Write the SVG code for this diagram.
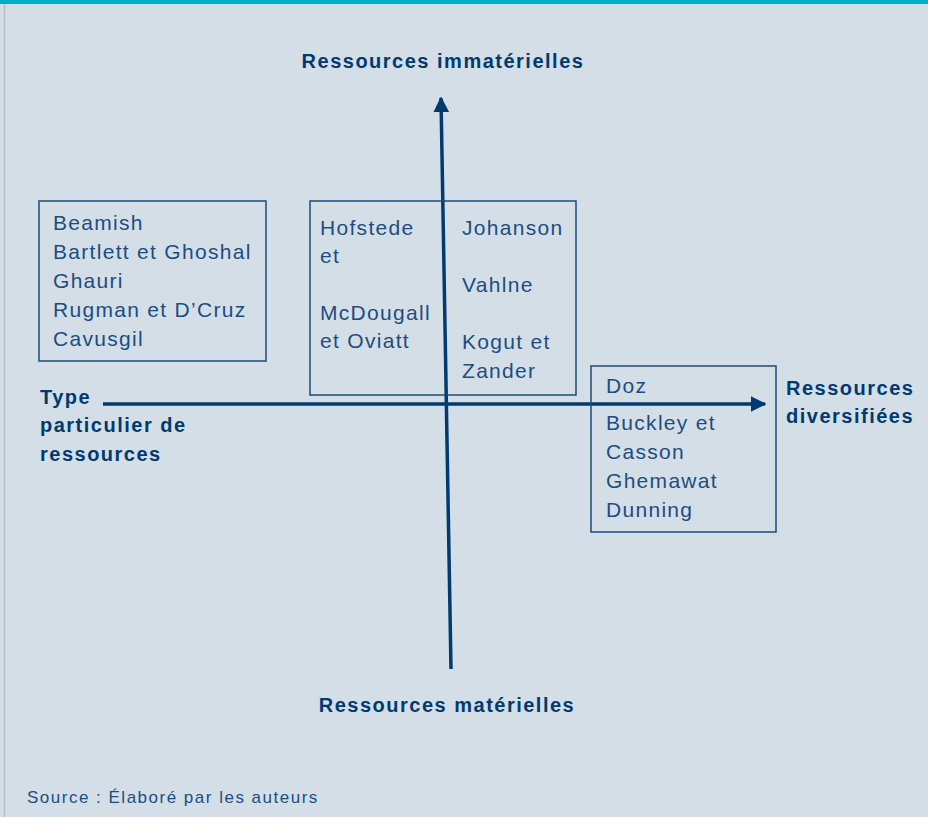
<svg xmlns="http://www.w3.org/2000/svg" width="928" height="817" viewBox="0 0 928 817">
<style>
.bg{fill:#d4dee7}
.box{fill:none;stroke:#1d4a7a;stroke-width:1.5}
.t{font-family:"Liberation Sans",Arial,sans-serif;font-size:21px;letter-spacing:1.3px;fill:#1d4d80}
.b{font-family:"Liberation Sans",Arial,sans-serif;font-size:20px;letter-spacing:1.5px;font-weight:bold;fill:#003a70}
.s{font-family:"Liberation Sans",Arial,sans-serif;font-size:17px;letter-spacing:1.5px;fill:#1d4d80}
.ax{stroke:#003a70;stroke-width:3.5;fill:none}
</style>
<defs>
<marker id="ah" viewBox="0 0 10 10" refX="9" refY="5" markerWidth="4.5" markerHeight="4.5" markerUnits="strokeWidth" orient="auto">
<path d="M0,0 L10,5 L0,10 Z" fill="#003a70"/>
</marker>
</defs>
<rect class="bg" x="0" y="0" width="928" height="817"/>
<rect x="0" y="0" width="928" height="4" fill="#00aec8"/>
<line x1="4.5" y1="4" x2="4.5" y2="817" stroke="#b8bcc0" stroke-width="1.5"/>

<g id="connectors">
<line class="ax" x1="451" y1="669" x2="441" y2="98" marker-end="url(#ah)"/>
<line class="ax" x1="103" y1="404" x2="765" y2="404" marker-end="url(#ah)"/>
</g>

<g id="axis-top"><text class="b" x="443" y="68" text-anchor="middle">Ressources immatérielles</text></g>
<g id="axis-bottom"><text class="b" x="447" y="712" text-anchor="middle">Ressources matérielles</text></g>
<g id="axis-left">
<text class="b" x="40" y="404">Type</text>
<text class="b" x="40" y="432">particulier de</text>
<text class="b" x="40" y="461">ressources</text>
</g>
<g id="axis-right">
<text class="b" x="786" y="395">Ressources</text>
<text class="b" x="786" y="423">diversifiées</text>
</g>

<g id="box1">
<rect class="box" x="39" y="201" width="227" height="160"/>
<text class="t" x="53" y="230">Beamish</text>
<text class="t" x="53" y="259">Bartlett et Ghoshal</text>
<text class="t" x="53" y="288">Ghauri</text>
<text class="t" x="53" y="317">Rugman et D’Cruz</text>
<text class="t" x="53" y="346">Cavusgil</text>
</g>

<g id="box2">
<rect class="box" x="310" y="201" width="266" height="194"/>
<text class="t" x="320" y="235">Hofstede</text>
<text class="t" x="320" y="263">et</text>
<text class="t" x="320" y="320">McDougall</text>
<text class="t" x="320" y="348">et Oviatt</text>
<text class="t" x="462" y="235">Johanson</text>
<text class="t" x="462" y="292">Vahlne</text>
<text class="t" x="462" y="349">Kogut et</text>
<text class="t" x="462" y="378">Zander</text>
</g>

<g id="box3">
<rect class="box" x="591" y="366" width="185" height="166"/>
<text class="t" x="606" y="393">Doz</text>
<text class="t" x="606" y="430">Buckley et</text>
<text class="t" x="606" y="459">Casson</text>
<text class="t" x="606" y="488">Ghemawat</text>
<text class="t" x="606" y="517">Dunning</text>
</g>

<g id="source"><text class="s" x="27" y="803">Source : Élaboré par les auteurs</text></g>
</svg>
